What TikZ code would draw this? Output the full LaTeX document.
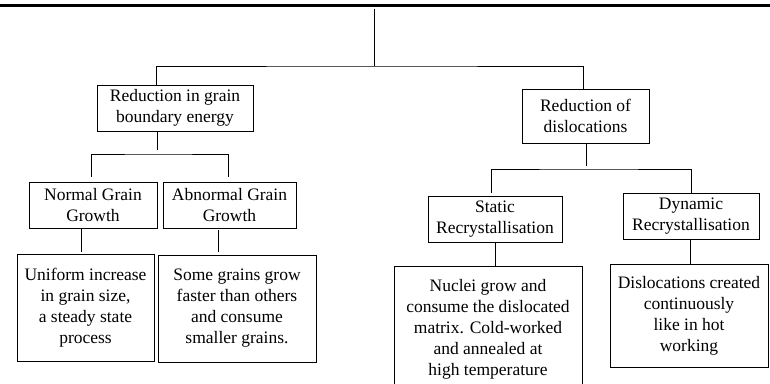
\documentclass[tikz,border=0pt]{standalone}
\usepackage{fontspec}
\setmainfont{Liberation Serif}
\tikzset{
    box/.style={draw, line width=0.9pt, align=center, inner sep=0pt,
        font=\fontsize{17.5}{21}\selectfont},
    link/.style={line width=0.8pt},
}
\begin{document}
\begin{tikzpicture}[x=1pt, y=-1pt]
    \clip (0,0) rectangle (770,383);
    \useasboundingbox (0,0) rectangle (770,383);

    \draw [line width=3pt] (0,5.3) -- (770,5.3);

    \node[box, minimum width=156, minimum height=46](energy)   at (175,108)   {Reduction in grain\\boundary energy};
    \node[box, minimum width=127, minimum height=54](disloc)   at (585.5,116) {Reduction of\\dislocations};

    \node[box, minimum width=128, minimum height=46](normal)   at (93,205)    {Normal Grain\\Growth};
    \node[box, minimum width=133, minimum height=46](abnormal) at (229.5,205) {Abnormal Grain\\Growth};
    \node[box, minimum width=134, minimum height=46](static)   at (495,219)   {Static\\Recrystallisation};
    \node[box, minimum width=136, minimum height=46](dynamic)  at (691,216)   {Dynamic\\Recrystallisation};

    \node[box, minimum width=137, minimum height=107](uniform) at (85.5,307.5) {Uniform increase\\in grain size,\\a steady state\\process};
    \node[box, minimum width=158, minimum height=107](faster)  at (237,308.5)  {Some grains grow\\faster than others\\and consume\\smaller grains.};
    \node[box, minimum width=188, minimum height=127](nuclei)  at (488,329.5)  {Nuclei grow and\\consume the dislocated\\matrix. Cold-worked\\and annealed at\\high temperature};
    \node[box, minimum width=158, minimum height=103](hotwork) at (689,315.5)  {Dislocations created\\continuously\\like in hot\\working};

    \coordinate(root)   at (374,9);
    \coordinate(split)  at (374,66);
    \coordinate(gsplit) at (157,154);
    \coordinate(dsplit) at (586.5,169);

    \draw [link] (root) -- (split);
    \draw [link] ([xshift=-19pt]energy.north) |- (split) -| ([xshift=-2.5pt]disloc.north);

    \draw [link, shorten >=4pt] ([xshift=-18pt]energy.south) -- (gsplit);
    \draw [link, shorten <=5pt, shorten >=5pt] ([xshift=-2pt]normal.north) |- (gsplit) -| ([xshift=-1.5pt]abnormal.north);
    \draw [link, shorten >=3pt] ([xshift=1pt]disloc.south) -- (dsplit);
    \draw [link, shorten <=3pt] ([xshift=-4pt]static.north) |- (dsplit) -| (dynamic.north);

    \draw [link, shorten >=2pt] ([xshift=-12pt]normal.south) -- ([xshift=-4.5pt]uniform.north);
    \draw [link, shorten <=2pt, shorten >=3pt] ([xshift=-11.5pt]abnormal.south) -- ([xshift=-19pt]faster.north);
    \draw [link] (static.south) -- ([xshift=7pt]nuclei.north);
    \draw [link] ([xshift=-1pt]dynamic.south) -- ([xshift=1pt]hotwork.north);
\end{tikzpicture}
\end{document}
